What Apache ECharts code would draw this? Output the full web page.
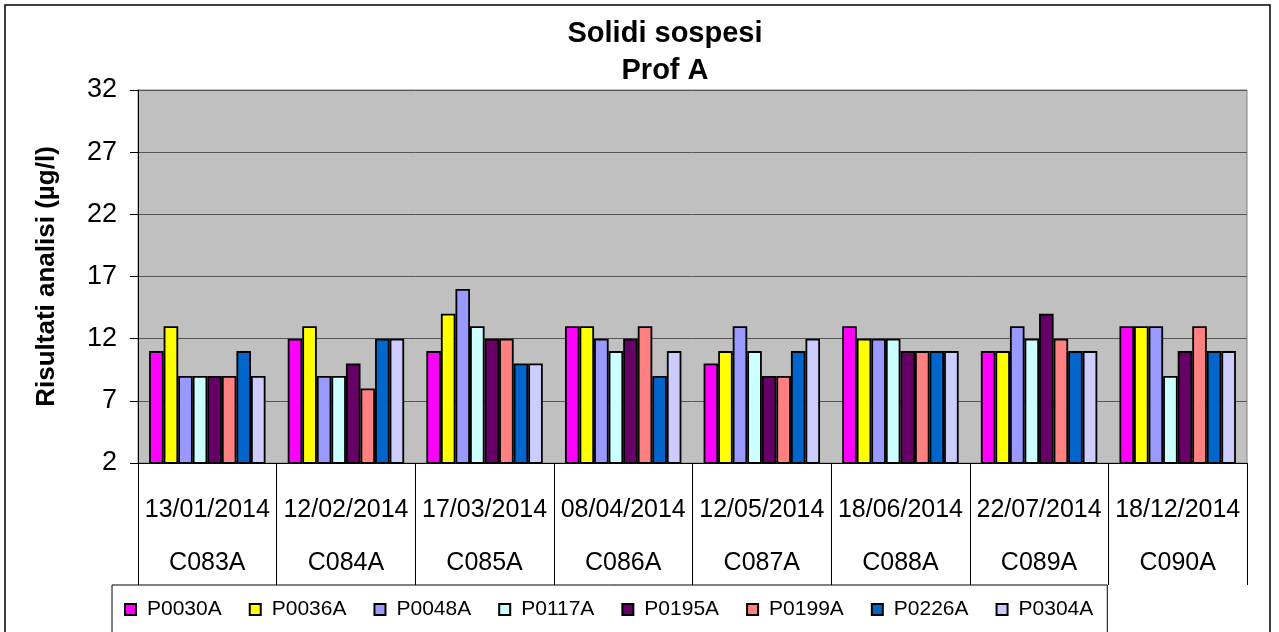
<!DOCTYPE html>
<html>
<head>
<meta charset="utf-8">
<script src="https://cdn.jsdelivr.net/npm/echarts@6/dist/echarts.min.js"></script>
<style>
  html, body { margin: 0; padding: 0; background: #fff; }
  #chart { width: 1279px; height: 632px; }
</style>
</head>
<body>
<div id="chart"></div>
<script>
// dati
var dates = ['13/01/2014', '12/02/2014', '17/03/2014', '08/04/2014', '12/05/2014', '18/06/2014', '22/07/2014', '18/12/2014']
var codes = ['C083A', 'C084A', 'C085A', 'C086A', 'C087A', 'C088A', 'C089A', 'C090A']
var seriesNames = ['P0030A', 'P0036A', 'P0048A', 'P0117A', 'P0195A', 'P0199A', 'P0226A', 'P0304A']

var p0030a = [11, 12, 11, 13, 10, 13, 11, 13]
var p0036a = [13, 13, 14, 13, 11, 12, 11, 13]
var p0048a = [9, 9, 16, 12, 13, 12, 13, 13]
var p0117a = [9, 9, 13, 11, 11, 12, 12, 9]
var p0195a = [9, 10, 12, 12, 9, 11, 14, 11]
var p0199a = [9, 8, 12, 13, 9, 11, 12, 13]
var p0226a = [11, 12, 10, 9, 11, 11, 11, 11]
var p0304a = [9, 12, 10, 11, 12, 11, 11, 11]

var seriesValues = [p0030a, p0036a, p0048a, p0117a, p0195a, p0199a, p0226a, p0304a]
var colors = ['#ff00ff', '#ffff00', '#9999ff', '#ccffff', '#660066', '#ff8080', '#0066cc', '#ccccff']

var chart = echarts.init(document.getElementById('chart'))

var series = seriesNames.map(function (name, i) {
  return {
    name: name,
    type: 'bar',
    data: seriesValues[i],
    barGap: '0%',
    barCategoryGap: '16%',
    itemStyle: {
      color: colors[i],
      borderColor: '#000',
      borderWidth: 1.8
    }
  }
})

var option = {
  animation: false,
  backgroundColor: '#fff',
  textStyle: { fontFamily: 'Liberation Sans, Arial, sans-serif' },
  title: {
    text: 'Solidi sospesi\nProf A',
    left: 660,
    top: 10,
    textAlign: 'center',
    textStyle: {
      fontSize: 29,
      fontWeight: 'bold',
      color: '#000',
      lineHeight: 37
    }
  },
  graphic: [{
    type: 'rect',
    shape: { x: 5, y: 5, width: 1265, height: 660 },
    style: { fill: null, stroke: '#000', lineWidth: 1.5 },
    silent: true,
    z: -1
  }],
  legend: {
    left: 112,
    top: 585,
    padding: [14, 14, 40, 12],
    itemWidth: 11,
    itemHeight: 11,
    itemGap: 27,
    icon: 'rect',
    borderColor: '#000',
    borderWidth: 1,
    textStyle: { fontSize: 21, color: '#000', padding: [0, 0, 0, 6] },
    data: seriesNames
  },
  grid: {
    left: 138,
    right: 32,
    top: 90,
    bottom: 169,
    show: true,
    backgroundColor: '#c0c0c0',
    borderColor: '#808080',
    borderWidth: 1
  },
  xAxis: [{
    type: 'category',
    data: dates,
    position: 'bottom',
    axisLine: { lineStyle: { color: '#000', width: 1 } },
    axisTick: { show: true, length: 122, lineStyle: { color: '#000', width: 1 } },
    axisLabel: { interval: 0, margin: 47, verticalAlign: 'middle', fontSize: 25, color: '#000' },
    splitLine: { show: false }
  }, {
    type: 'category',
    data: codes,
    position: 'bottom',
    axisLine: { show: false },
    axisTick: { show: false },
    axisLabel: { interval: 0, margin: 100, verticalAlign: 'middle', fontSize: 25, color: '#000' },
    splitLine: { show: false }
  }],
  yAxis: {
    type: 'value',
    min: 2,
    max: 32,
    interval: 5,
    name: 'Risultati analisi (µg/l)',
    nameLocation: 'middle',
    nameGap: 78,
    nameTextStyle: { fontSize: 26, fontWeight: 'bold', color: '#000' },
    axisLine: { show: true, lineStyle: { color: '#000', width: 1 } },
    axisTick: { show: true, length: 8, lineStyle: { color: '#000' } },
    axisLabel: { margin: 21, fontSize: 27, color: '#000' },
    splitLine: { lineStyle: { color: '#555', width: 1 } }
  },
  series: series
}

chart.setOption(option)
</script>
</body>
</html>
